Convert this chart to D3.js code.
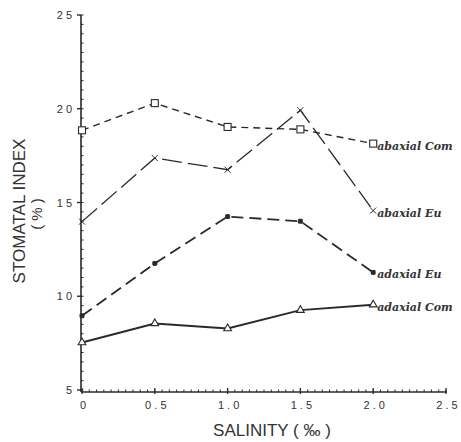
<!DOCTYPE html>
<html><head><meta charset="utf-8">
<script src="https://cdn.jsdelivr.net/npm/d3@7"></script>
<style>body{margin:0;background:#fff}</style>
</head><body>
<script>
// ---- data ----
const salinity = [0, 0.5, 1.0, 1.5, 2.0];
const abaxialCom = [18.85, 20.3, 19.03, 18.9, 18.14];
const abaxialEu  = [13.98, 17.37, 16.75, 19.92, 14.57];
const adaxialEu  = [8.96, 11.75, 14.25, 14.0, 11.27];
const adaxialCom = [7.53, 8.55, 8.28, 9.26, 9.55];
const seriesNames = ["abaxial Com", "abaxial Eu", "adaxial Eu", "adaxial Com"];
const xTicks = [0, 0.5, 1.0, 1.5, 2.0, 2.5];
const xTickLabels = ["0", "0.5", "1.0", "1.5", "2.0", "2.5"];
const yTicks = [5, 10, 15, 20, 25];
const yTickLabels = ["5", "10", "15", "20", "25"];

const W = 461, H = 442;
const svg = d3.select("body").append("svg").attr("width", W).attr("height", H);
const ink = "#2a2a2a";
const x = d3.scaleLinear().domain([0, 2.5]).range([82, 446]);
const y = d3.scaleLinear().domain([5, 25]).range([390, 15]);
const x0 = 81, yBase = 392;

// axes lines
svg.append("line").attr("x1", x0).attr("x2", x0).attr("y1", y(25)).attr("y2", yBase)
  .attr("stroke", ink).attr("stroke-width", 1.6);
svg.append("line").attr("x1", x0).attr("x2", x(2.5) + 1).attr("y1", yBase).attr("y2", yBase)
  .attr("stroke", ink).attr("stroke-width", 1.6);

// y minor ticks (inside)
const yMinor = d3.range(5, 25.01, 0.5);
svg.selectAll(".ymin").data(yMinor).enter().append("line")
  .attr("x1", x0).attr("x2", x0 + 2.5).attr("y1", d => y(d)).attr("y2", d => y(d))
  .attr("stroke", ink).attr("stroke-width", 1);
// y major ticks (outside)
svg.selectAll(".ymaj").data(yTicks).enter().append("line")
  .attr("x1", x0 - 4).attr("x2", x0).attr("y1", d => y(d)).attr("y2", d => y(d))
  .attr("stroke", ink).attr("stroke-width", 1.4);
svg.selectAll(".ylab").data(yTicks).enter().append("text")
  .attr("x", 72).attr("y", d => y(d) + 4)
  .attr("text-anchor", "end")
  .attr("font-family", "Liberation Sans, Arial, sans-serif").attr("font-size", 11)
  .attr("fill", "#333")
  .text((d, i) => yTickLabels[i].split("").join(" "));

// x minor ticks
const xMinor = d3.range(0, 2.501, 0.05);
svg.selectAll(".xmin").data(xMinor).enter().append("line")
  .attr("x1", d => x(d)).attr("x2", d => x(d)).attr("y1", yBase).attr("y2", yBase - 2.5)
  .attr("stroke", ink).attr("stroke-width", 1);
svg.selectAll(".xmaj").data(xTicks).enter().append("line")
  .attr("x1", d => x(d)).attr("x2", d => x(d)).attr("y1", yBase - 4).attr("y2", yBase + 2)
  .attr("stroke", ink).attr("stroke-width", 1.3);
svg.selectAll(".xlab").data(xTicks).enter().append("text")
  .attr("x", d => x(d) + 1).attr("y", 409)
  .attr("text-anchor", "middle")
  .attr("font-family", "Liberation Sans, Arial, sans-serif").attr("font-size", 11)
  .attr("fill", "#333")
  .text((d, i) => xTickLabels[i].split("").join(" "));

// axis titles
svg.append("text").attr("x", 272).attr("y", 436).attr("text-anchor", "middle")
  .attr("font-family", "Liberation Sans, Arial, sans-serif").attr("font-size", 17)
  .attr("fill", "#333").text("SALINITY ( ‰ )");
svg.append("text").attr("transform", "translate(25,211) rotate(-90)").attr("text-anchor", "middle")
  .attr("font-family", "Liberation Sans, Arial, sans-serif").attr("font-size", 17)
  .attr("fill", "#333").text("STOMATAL INDEX");
svg.append("text").attr("transform", "translate(42,214) rotate(-90)").attr("text-anchor", "middle")
  .attr("font-family", "Liberation Sans, Arial, sans-serif").attr("font-size", 15)
  .attr("fill", "#333").text("( % )");

// series
const series = [
  {name: seriesNames[0], vals: abaxialCom, dash: "7,5", sw: 1.4, marker: "square"},
  {name: seriesNames[1], vals: abaxialEu, dash: "20,6", sw: 1.3, marker: "x"},
  {name: seriesNames[2], vals: adaxialEu, dash: "12,6", sw: 1.8, marker: "star"},
  {name: seriesNames[3], vals: adaxialCom, dash: null, sw: 2, marker: "tri"}
];
const line = d3.line().x(d => x(d[0])).y(d => y(d[1]));
series.forEach(s => {
  const pts = salinity.map((v, i) => [v, s.vals[i]]);
  const p = svg.append("path").attr("d", line(pts)).attr("fill", "none")
    .attr("stroke", ink).attr("stroke-width", s.sw);
  if (s.dash) p.attr("stroke-dasharray", s.dash);
  const g = svg.append("g");
  pts.forEach(pt => {
    const cx = x(pt[0]), cy = y(pt[1]);
    if (s.marker === "square") {
      g.append("rect").attr("x", cx - 3.5).attr("y", cy - 3.5).attr("width", 7).attr("height", 7)
        .attr("fill", "#fff").attr("stroke", ink).attr("stroke-width", 1.1);
    } else if (s.marker === "x") {
      g.append("path").attr("d", `M${cx-3},${cy-3}L${cx+3},${cy+3}M${cx-3},${cy+3}L${cx+3},${cy-3}`)
        .attr("stroke", ink).attr("stroke-width", 1);
    } else if (s.marker === "star") {
      g.append("path").attr("d", d3.symbol().type(d3.symbolCross).size(18)())
        .attr("transform", `translate(${cx},${cy}) rotate(45)`).attr("fill", ink);
      g.append("path").attr("d", d3.symbol().type(d3.symbolCross).size(14)())
        .attr("transform", `translate(${cx},${cy})`).attr("fill", ink);
    } else {
      g.append("path").attr("d", d3.symbol().type(d3.symbolTriangle).size(26)())
        .attr("transform", `translate(${cx},${cy})`).attr("fill", "#fff")
        .attr("stroke", ink).attr("stroke-width", 1.1);
    }
  });
  const last = pts[pts.length - 1];
  svg.append("text").attr("x", x(last[0]) + 4).attr("y", y(last[1]) + 6)
    .attr("font-family", "DejaVu Serif, serif").attr("font-style", "italic").attr("font-weight", "bold")
    .attr("font-size", 11).attr("fill", "#333").text(s.name);
});
</script>
</body></html>
